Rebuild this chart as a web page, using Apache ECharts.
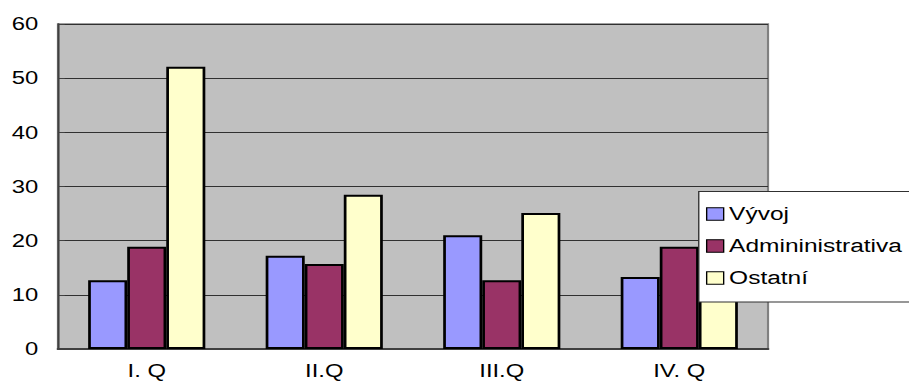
<!DOCTYPE html>
<html>
<head>
<meta charset="utf-8">
<script src="https://cdn.jsdelivr.net/npm/echarts@6/dist/echarts.min.js"></script>
<style>
  html, body { margin: 0; padding: 0; background: #fff; overflow: hidden; }
  /* The chart is laid out on a narrower canvas and widened horizontally,
     which gives the broad, stretched lettering of the original sheet. */
  #chart {
    width: 668px;
    height: 381px;
    transform: scaleX(1.3608);
    transform-origin: 0 0;
  }
</style>
</head>
<body>
<div id="chart"></div>
<script>
// Quarterly breakdown by department
var quarters = ['I. Q', 'II.Q', 'III.Q', 'IV. Q'];
var seriesNames = ['Vývoj', 'Admininistrativa', 'Ostatní'];
var vyvoj = [12.7, 17.2, 21.0, 13.3];
var administrativa = [18.9, 15.7, 12.7, 18.9];
var ostatni = [52.1, 28.5, 25.1, 22.0];
var yTicks = [0, 10, 20, 30, 40, 50, 60];

var colors = ['#9999FF', '#993366', '#FFFFCC'];
var values = [vyvoj, administrativa, ostatni];
var font = 'Liberation Sans, Arial, sans-serif';

var chart = echarts.init(document.getElementById('chart'), null, { renderer: 'svg' });

chart.setOption({
  animation: false,
  grid: {
    left: 42.6, top: 24, right: 103.6, bottom: 32,
    show: true,
    backgroundColor: '#C0C0C0',
    borderColor: '#808080',
    borderWidth: 1.6
  },
  xAxis: {
    type: 'category',
    data: quarters,
    axisLine: { lineStyle: { color: '#404040', width: 2 } },
    axisTick: { inside: true, length: 6, lineStyle: { color: '#404040', width: 1 } },
    axisLabel: { color: '#000', fontFamily: font, fontSize: 17.5, margin: 13 },
    splitLine: { show: false }
  },
  yAxis: {
    type: 'value',
    min: yTicks[0],
    max: yTicks[yTicks.length - 1],
    interval: 10,
    axisLine: { show: true, lineStyle: { color: '#404040', width: 1.5 } },
    axisTick: { show: true, inside: true, length: 5, lineStyle: { color: '#404040' } },
    axisLabel: { color: '#000', fontFamily: font, fontSize: 17.5, margin: 14.5 },
    splitLine: { show: true, lineStyle: { color: '#303030', width: 1 } }
  },
  legend: {
    orient: 'vertical',
    left: 518.8,
    top: 205,
    z: 20,
    itemWidth: 12.5,
    itemHeight: 12.5,
    itemGap: 14,
    icon: 'rect',
    padding: 0,
    data: seriesNames,
    itemStyle: { borderColor: '#000', borderWidth: 1 },
    textStyle: { color: '#000', fontFamily: font, fontSize: 18, padding: [0, 0, 0, -1] }
  },
  graphic: [{
    type: 'rect',
    z: 15,
    left: 513,
    top: 191,
    shape: { width: 156, height: 110.5 },
    style: { fill: '#fff', stroke: '#303030', lineWidth: 1 }
  }],
  series: seriesNames.map(function (name, i) {
    return {
      name: name,
      type: 'bar',
      data: values[i],
      barGap: '0%',
      barCategoryGap: '34%',
      itemStyle: { color: colors[i], borderColor: '#000', borderWidth: 2 }
    };
  })
});
</script>
</body>
</html>
